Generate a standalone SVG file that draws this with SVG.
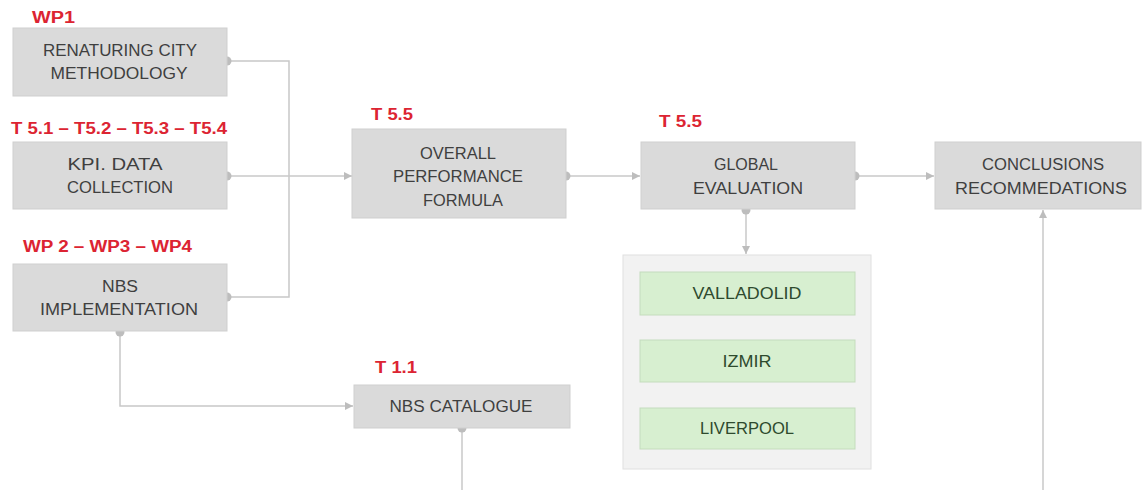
<svg xmlns="http://www.w3.org/2000/svg" width="1142" height="490" viewBox="0 0 1142 490">
<style>
.node{fill:#dadada;stroke:#cfcfcf;stroke-width:1}
.green{fill:#d7efd0;stroke:#c4dcbd;stroke-width:1}
.cont{fill:#f2f2f2;stroke:#e0e0e0;stroke-width:1}
.t{font-family:"Liberation Sans",Arial,sans-serif;font-size:16px;fill:#3f3f3f;text-anchor:middle}
.tg{font-family:"Liberation Sans",Arial,sans-serif;font-size:16px;fill:#2e4a2e;text-anchor:middle}
.lab{font-family:"Liberation Sans",Arial,sans-serif;font-size:16px;font-weight:bold;fill:#dc2432}
.ln{fill:none;stroke:#c8c8c8;stroke-width:1.5}
.dot{fill:#bdbdbd}
</style>
<defs>
<marker id="arr" viewBox="0 0 10 10" refX="10" refY="5" markerWidth="8" markerHeight="8" orient="auto" markerUnits="userSpaceOnUse">
<path d="M0,0 L10,5 L0,10 z" fill="#bdbdbd"/>
</marker>
</defs>
<rect width="1142" height="490" fill="#ffffff"/>

<g id="connectors">
<polyline class="ln" points="227,61 289,61 289,297 227,297"/>
<line class="ln" x1="227" y1="176" x2="352" y2="176" marker-end="url(#arr)"/>
<line class="ln" x1="566" y1="176" x2="640" y2="176" marker-end="url(#arr)"/>
<line class="ln" x1="855" y1="176" x2="934" y2="176" marker-end="url(#arr)"/>
<line class="ln" x1="746" y1="210" x2="746" y2="254" marker-end="url(#arr)"/>
<polyline class="ln" points="120,332 120,406 353,406" marker-end="url(#arr)"/>
<line class="ln" x1="462" y1="428" x2="462" y2="490"/>
<line class="ln" x1="1043" y1="490" x2="1043" y2="210" marker-end="url(#arr)"/>
<circle class="dot" cx="227" cy="61" r="4.5"/>
<circle class="dot" cx="227" cy="176" r="4.5"/>
<circle class="dot" cx="227" cy="297" r="4.5"/>
<circle class="dot" cx="120" cy="332" r="4.5"/>
<circle class="dot" cx="566" cy="176" r="4.5"/>
<circle class="dot" cx="855" cy="176" r="4.5"/>
<circle class="dot" cx="746" cy="210" r="4.5"/>
<circle class="dot" cx="462" cy="428" r="4.5"/>
</g>

<g id="renaturing">
<text class="lab" x="32" y="23" textLength="43" lengthAdjust="spacingAndGlyphs">WP1</text>
<rect class="node" x="13" y="28" width="214" height="68"/>
<text class="t" x="120" y="56" textLength="154" lengthAdjust="spacingAndGlyphs">RENATURING CITY</text>
<text class="t" x="119" y="79" textLength="137" lengthAdjust="spacingAndGlyphs">METHODOLOGY</text>
</g>

<g id="kpi">
<text class="lab" x="11" y="134" textLength="216" lengthAdjust="spacingAndGlyphs">T 5.1 – T5.2 – T5.3 – T5.4</text>
<rect class="node" x="13" y="142" width="214" height="67"/>
<text class="t" x="115" y="170" textLength="95" lengthAdjust="spacingAndGlyphs">KPI. DATA</text>
<text class="t" x="120" y="193" textLength="106" lengthAdjust="spacingAndGlyphs">COLLECTION</text>
</g>

<g id="nbs-impl">
<text class="lab" x="23" y="252" textLength="169" lengthAdjust="spacingAndGlyphs">WP 2 – WP3 – WP4</text>
<rect class="node" x="13" y="264" width="214" height="67"/>
<text class="t" x="120" y="292" textLength="36" lengthAdjust="spacingAndGlyphs">NBS</text>
<text class="t" x="119" y="315" textLength="158" lengthAdjust="spacingAndGlyphs">IMPLEMENTATION</text>
</g>

<g id="overall">
<text class="lab" x="371" y="120" textLength="42" lengthAdjust="spacingAndGlyphs">T 5.5</text>
<rect class="node" x="352" y="129" width="214" height="89"/>
<text class="t" x="458" y="159" textLength="76" lengthAdjust="spacingAndGlyphs">OVERALL</text>
<text class="t" x="458" y="182" textLength="130" lengthAdjust="spacingAndGlyphs">PERFORMANCE</text>
<text class="t" x="463" y="206" textLength="80" lengthAdjust="spacingAndGlyphs">FORMULA</text>
</g>

<g id="global">
<text class="lab" x="659" y="127" textLength="43" lengthAdjust="spacingAndGlyphs">T 5.5</text>
<rect class="node" x="641" y="142" width="214" height="67"/>
<text class="t" x="746" y="170" textLength="64" lengthAdjust="spacingAndGlyphs">GLOBAL</text>
<text class="t" x="748" y="194" textLength="110" lengthAdjust="spacingAndGlyphs">EVALUATION</text>
</g>

<g id="conclusions">
<rect class="node" x="935" y="142" width="206" height="67"/>
<text class="t" x="1043" y="170" textLength="122" lengthAdjust="spacingAndGlyphs">CONCLUSIONS</text>
<text class="t" x="1041" y="194" textLength="172" lengthAdjust="spacingAndGlyphs">RECOMMEDATIONS</text>
</g>

<g id="cities">
<rect class="cont" x="623" y="255" width="248" height="214"/>
<rect class="green" x="640" y="272" width="215" height="43"/>
<text class="tg" x="747" y="299" textLength="109" lengthAdjust="spacingAndGlyphs">VALLADOLID</text>
<rect class="green" x="640" y="340" width="215" height="42"/>
<text class="tg" x="747" y="367" textLength="49" lengthAdjust="spacingAndGlyphs">IZMIR</text>
<rect class="green" x="640" y="408" width="215" height="41"/>
<text class="tg" x="747" y="434" textLength="94" lengthAdjust="spacingAndGlyphs">LIVERPOOL</text>
</g>

<g id="catalogue">
<text class="lab" x="375" y="373" textLength="42" lengthAdjust="spacingAndGlyphs">T 1.1</text>
<rect class="node" x="354" y="385" width="216" height="43"/>
<text class="t" x="461" y="412" textLength="143" lengthAdjust="spacingAndGlyphs">NBS CATALOGUE</text>
</g>
</svg>
